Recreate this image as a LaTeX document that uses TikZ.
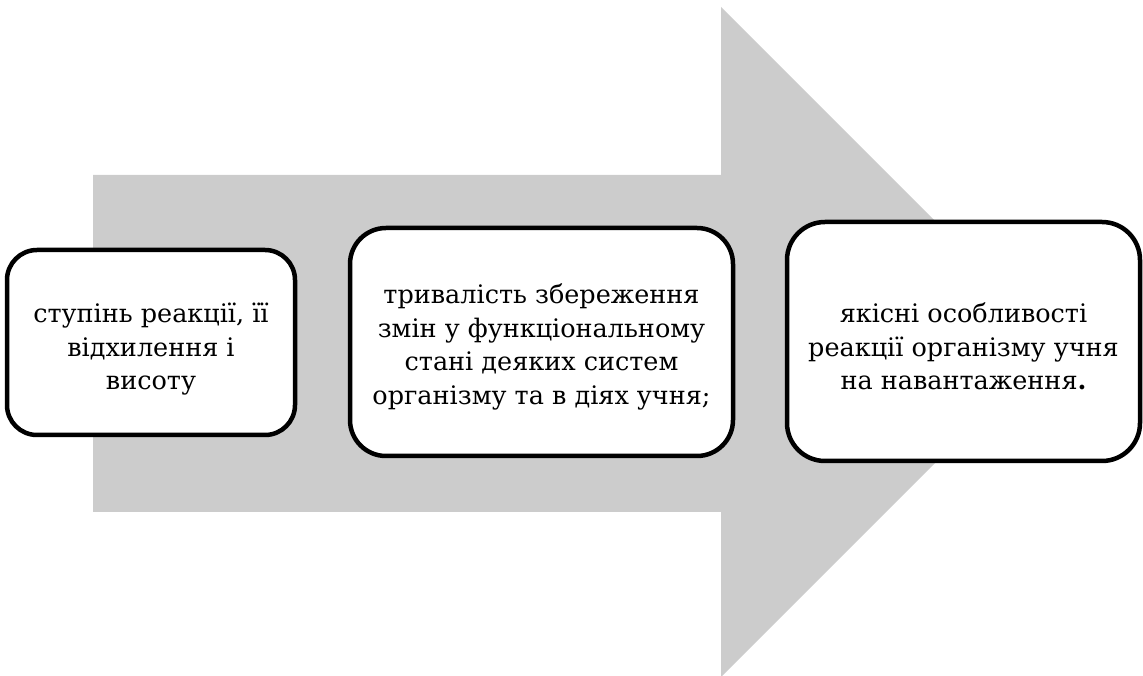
\documentclass[tikz,border=0pt]{standalone}
\usepackage{fontspec}
\setmainfont{DejaVu Serif}
\begin{document}
\begin{tikzpicture}[x=1pt,y=1pt,
  stagebox/.style={draw=black,line width=4.5pt,fill=white,rounded corners=30pt,inner sep=0pt},
  stagetext/.style={align=center,inner sep=0pt,font=\fontsize{25.5}{33.5}\selectfont},
  bigarrow/.style={fill=black!20,draw=none}]
\useasboundingbox (0,0) rectangle (1143,675);
\fill[bigarrow] (93,500) -- (721,500) -- (721,668) -- (1056,333) -- (721,-2) -- (721,163) -- (93,163) -- cycle;
\node[stagebox,minimum width=288pt,minimum height=185pt] (b1) at (151,332.5) {};
\node[stagetext,yshift=-7pt] (t1) at (b1.center)
  {ступінь реакції, її\\відхилення і\\висоту};
\node[stagebox,minimum width=383pt,minimum height=228pt,rounded corners=36pt] (b2) at (541.5,333) {};
\node[stagetext,yshift=-5pt] (t2) at (b2.center)
  {тривалість збереження\\змін у функціональному\\стані деяких систем\\організму та в діях учня;};
\node[stagebox,minimum width=353pt,minimum height=239pt,rounded corners=38pt] (b3) at (963.5,333.5) {};
\node[stagetext,yshift=-5pt] (t3) at (b3.center)
  {якісні особливості\\реакції організму учня\\на навантаження\textbf{.}};
\end{tikzpicture}
\end{document}
